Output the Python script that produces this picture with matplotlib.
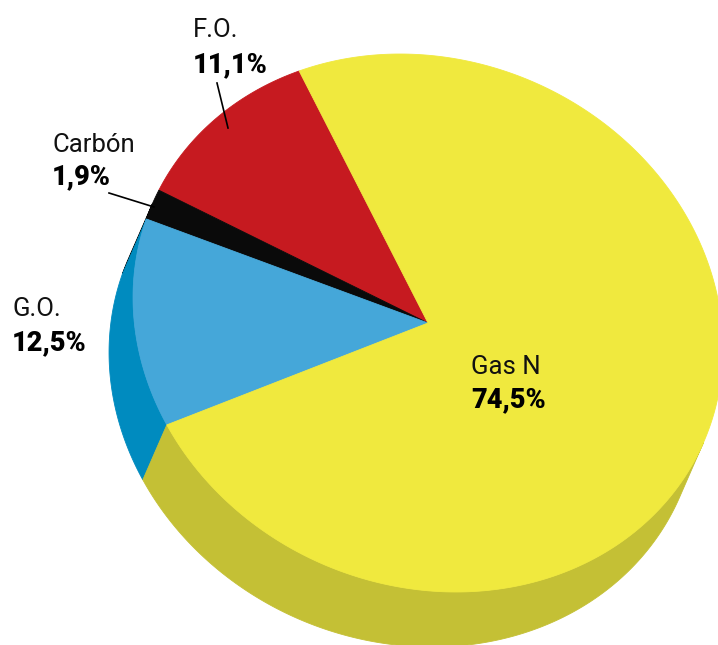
import numpy as np
import matplotlib
matplotlib.use("Agg")
import matplotlib.pyplot as plt
from matplotlib.patches import Polygon

# Energy mix shares (%) in the order they run around the pie
categories = ["F.O.", "Carbón", "G.O.", "Gas N"]
shares = [11.1, 1.9, 12.5, 74.5]
value_labels = ["11,1%", "1,9%", "12,5%", "74,5%"]

top_colors = ["#C61A20", "#0A0A0A", "#45A7D9", "#F0E93E"]
side_colors = ["#9E1519", "#000000", "#008BBF", "#C4C035"]

# Pie geometry (pixel space, y pointing down)
center = np.array([428.0, 323.0])
semi_major, semi_minor = 300.3, 263.0
tilt_deg = 22.9
depth = np.array([-24.0, 55.0])
start_deg = 223.8

tilt = np.radians(tilt_deg)
e1 = np.array([np.cos(tilt), np.sin(tilt)])
e2 = np.array([-np.sin(tilt), np.cos(tilt)])


def rim(t_deg):
    t = np.radians(np.atleast_1d(t_deg))
    u = semi_major * np.cos(t)
    v = semi_minor * np.sin(t)
    return center + np.outer(u, e1) + np.outer(v, e2)


# Direction (in parameter space) of the rim that faces the viewer
w = np.array([depth @ e1 / semi_major, depth @ e2 / semi_minor])
face_deg = np.degrees(np.arctan2(w[1], w[0]))

fig = plt.figure(figsize=(7.18, 6.45), dpi=100)
ax = fig.add_axes([0, 0, 1, 1])
ax.set_xlim(0, 718)
ax.set_ylim(645, 0)
ax.axis("off")

fracs = np.array(shares) / np.sum(shares)
cum = np.concatenate([[0], np.cumsum(fracs)])
spans = [(start_deg - 360 * cum[i + 1], start_deg - 360 * cum[i]) for i in range(len(shares))]

# Side walls (only the visible front half)
for (lo, hi), col in zip(spans, side_colors):
    for k in range(-2, 3):
        a = max(lo, face_deg - 90 + 360 * k)
        b = min(hi, face_deg + 90 + 360 * k)
        if b - a <= 0:
            continue
        ts = np.linspace(a, b, max(int((b - a) * 2), 4))
        upper = rim(ts)
        lower = upper + depth
        poly = np.vstack([upper, lower[::-1]])
        ax.add_patch(Polygon(poly, closed=True, facecolor=col, edgecolor=col,
                             linewidth=0.6, zorder=1))

# Top face
for (lo, hi), col in zip(spans, top_colors):
    ts = np.linspace(lo, hi, max(int((hi - lo) * 2), 4))
    poly = np.vstack([center, rim(ts)])
    ax.add_patch(Polygon(poly, closed=True, facecolor=col, edgecolor=col,
                         linewidth=0.6, zorder=2))

font = ["Roboto", "DejaVu Sans"]
fs = 18.5
fs_val = 19.5
label_pos = {
    "F.O.": (193, 37, 72),
    "Carbón": (52, 152, 184),
    "G.O.": (12, 316, 350),
    "Gas N": (471, 374, 407),
}
for name, val in zip(categories, value_labels):
    x, y1, y2 = label_pos[name]
    ax.text(x, y1, name, family=font, fontsize=fs, color="#111111",
            ha="left", va="baseline", zorder=5)
    ax.text(x, y2, val, family=font, fontsize=fs_val, fontweight="black",
            color="#000000", ha="left", va="baseline", zorder=5)

# Leader lines
ax.plot([217, 228], [83, 128], color="black", lw=1.2, zorder=4)
ax.plot([109, 154], [193, 207], color="black", lw=1.2, zorder=4)

fig.savefig("out.png", dpi=100)
